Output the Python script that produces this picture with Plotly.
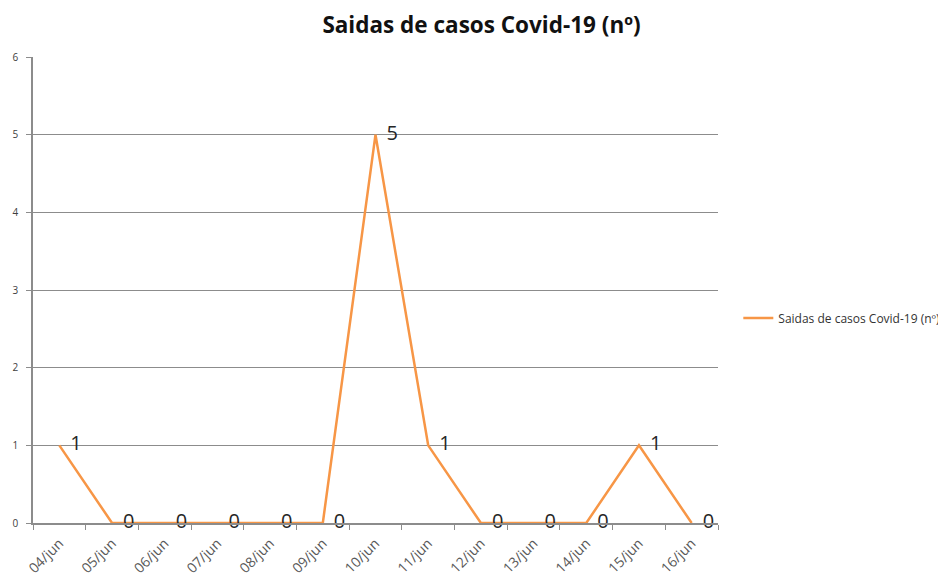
import plotly.graph_objects as go

dates = ["04/jun", "05/jun", "06/jun", "07/jun", "08/jun", "09/jun", "10/jun",
         "11/jun", "12/jun", "13/jun", "14/jun", "15/jun", "16/jun"]
saidas = [1, 0, 0, 0, 0, 0, 5, 1, 0, 0, 0, 1, 0]
series_name = "Saidas de casos Covid-19 (nº)"
title_text = "Saidas de casos Covid-19 (nº)"

fig = go.Figure()
fig.add_trace(go.Scatter(
    x=dates, y=saidas, mode="lines", name=series_name,
    line=dict(color="#F79646", width=2.5),
))
fig.add_trace(go.Scatter(
    x=dates, y=saidas, mode="markers+text", showlegend=False, hoverinfo="skip",
    marker=dict(size=16, opacity=0, color="#F79646"),
    text=[str(v) for v in saidas], textposition="middle right",
    textfont=dict(family="Open Sans", size=20, color="#262626"),
    cliponaxis=False,
))

fig.update_layout(
    width=946, height=578,
    margin=dict(l=25, r=236, t=49, b=63),
    paper_bgcolor="white", plot_bgcolor="white",
    title=dict(text="<b>" + title_text + "</b>", x=0.5005, xanchor="center",
               y=0.971, yanchor="middle",
               font=dict(family="Open Sans", size=22.5, color="#111111")),
    showlegend=True,
    legend=dict(xref="container", yref="container", x=0.772, y=0.4637,
                xanchor="left", yanchor="middle",
                font=dict(family="Open Sans", size=12, color="#333333"),
                bgcolor="rgba(0,0,0,0)"),
    xaxis=dict(type="category", range=[-0.5, 12.5], tickson="boundaries",
               ticks="outside", ticklen=5, tickcolor="#8c8c8c",
               showline=True, linecolor="#8c8c8c", linewidth=1.5,
               showgrid=False, tickangle=-45, automargin=False,
               ticklabelstandoff=5,
               tickfont=dict(family="Open Sans", size=14, color="#595959")),
    yaxis=dict(range=[0, 6], dtick=1, ticks="outside", ticklen=5,
               tickcolor="#8c8c8c", showline=True, linecolor="#8c8c8c",
               linewidth=1.5, showgrid=True, gridcolor="#8c8c8c", gridwidth=1,
               zeroline=False, ticklabelstandoff=6, automargin=False,
               tickfont=dict(family="Open Sans", size=10, color="#404040")),
)

fig.write_html("out.html")
